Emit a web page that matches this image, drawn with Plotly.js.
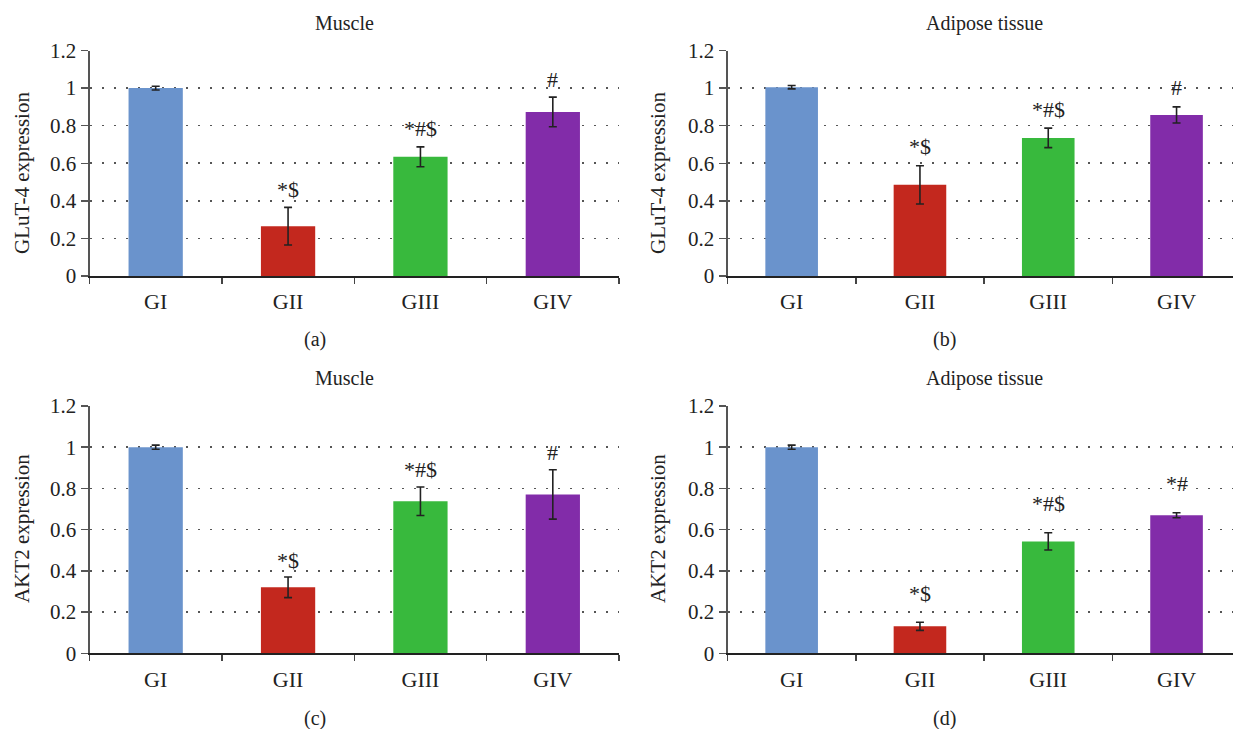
<!DOCTYPE html>
<html>
<head>
<meta charset="utf-8">
<script src="https://cdn.plot.ly/plotly-3.0.1.min.js"></script>
<style>
  html, body { margin: 0; padding: 0; background: #ffffff; }
  #chart { width: 1233px; height: 729px; }
</style>
</head>
<body>
<div id="chart"></div>
<script>
// ---- data ----
const categories = ['GI', 'GII', 'GIII', 'GIV'];
const barColors = ['#6a93cc', '#c3281e', '#38b93d', '#822ca9'];

const glut4Muscle = [1.0, 0.265, 0.634, 0.873];
const glut4MuscleErr = [0.01, 0.10, 0.053, 0.079];
const glut4MuscleMarks = ['', '*$', '*#$', '#'];

const glut4Adipose = [1.005, 0.485, 0.735, 0.857];
const glut4AdiposeErr = [0.009, 0.102, 0.052, 0.043];
const glut4AdiposeMarks = ['', '*$', '*#$', '#'];

const akt2Muscle = [1.0, 0.320, 0.738, 0.771];
const akt2MuscleErr = [0.01, 0.05, 0.069, 0.12];
const akt2MuscleMarks = ['', '*$', '*#$', '#'];

const akt2Adipose = [1.0, 0.131, 0.543, 0.670];
const akt2AdiposeErr = [0.01, 0.02, 0.042, 0.012];
const akt2AdiposeMarks = ['', '*$', '*#$', '*#'];

const panelTitles = ['Muscle', 'Adipose tissue', 'Muscle', 'Adipose tissue'];
const yTitles = ['GLuT-4 expression', 'GLuT-4 expression', 'AKT2 expression', 'AKT2 expression'];
const panelLetters = ['(a)', '(b)', '(c)', '(d)'];
const yTickVals = [0, 0.2, 0.4, 0.6, 0.8, 1.0, 1.2];
const yTickText = ['0', '0.2', '0.4', '0.6', '0.8', '1', '1.2'];

// ---- layout helpers ----
const W = 1233, H = 729;
const FONT = 'Liberation Serif, Times New Roman, serif';
const panels = [
  {vals: glut4Muscle, err: glut4MuscleErr, marks: glut4MuscleMarks,
   x0: 89.5, x1: 619, yTop: 50.5, yBot: 276, xr: [-0.5, 3.5], markShift: 18,
   titleX: 344, titleY: 23, letterX: 315, letterY: 340, yTitleX: 22, yTitleY: 173},
  {vals: glut4Adipose, err: glut4AdiposeErr, marks: glut4AdiposeMarks,
   x0: 727.5, x1: 1233, yTop: 50.5, yBot: 276, xr: [-0.5, 3.44], markShift: 19,
   titleX: 985, titleY: 23, letterX: 944, letterY: 340, yTitleX: 658, yTitleY: 173},
  {vals: akt2Muscle, err: akt2MuscleErr, marks: akt2MuscleMarks,
   x0: 89.5, x1: 619, yTop: 406, yBot: 653.3, xr: [-0.5, 3.5], markShift: 17,
   titleX: 344, titleY: 378, letterX: 315, letterY: 718, yTitleX: 22, yTitleY: 529},
  {vals: akt2Adipose, err: akt2AdiposeErr, marks: akt2AdiposeMarks,
   x0: 727.5, x1: 1233, yTop: 406, yBot: 653.3, xr: [-0.5, 3.44], markShift: 29,
   titleX: 985, titleY: 378, letterX: 944, letterY: 718, yTitleX: 658, yTitleY: 529}
];

const traces = [];
const layout = {
  width: W, height: H,
  margin: {l: 0, r: 0, t: 0, b: 0},
  paper_bgcolor: '#ffffff',
  plot_bgcolor: 'rgba(0,0,0,0)',
  showlegend: false,
  font: {family: FONT, size: 20, color: '#222222'},
  annotations: []
};

panels.forEach((p, i) => {
  const n = i === 0 ? '' : String(i + 1);
  traces.push({
    type: 'bar',
    x: categories,
    y: p.vals,
    width: 0.41,
    marker: {color: barColors, line: {width: 0}},
    error_y: {type: 'data', array: p.err, visible: true, color: '#222222', thickness: 1.6, width: 4},
    xaxis: 'x' + n, yaxis: 'y' + n,
    hoverinfo: 'x+y'
  });
  layout['xaxis' + n] = {
    domain: [p.x0 / W, Math.min(p.x1 / W, 1)],
    anchor: 'y' + n,
    type: 'category',
    range: p.xr,
    showline: true, linecolor: '#222222', linewidth: 2,
    ticks: 'outside', tickson: 'boundaries', ticklen: 6, tickwidth: 1.5, tickcolor: '#444444',
    ticklabelstandoff: 5,
    showgrid: false, zeroline: false,
    tickfont: {family: FONT, size: 22, color: '#222222'}
  };
  layout['yaxis' + n] = {
    domain: [1 - p.yBot / H, 1 - p.yTop / H],
    anchor: 'x' + n,
    range: [0, 1.2],
    tickvals: yTickVals, ticktext: yTickText,
    showline: true, linecolor: '#555555', linewidth: 2,
    ticks: 'outside', ticklen: 7, tickwidth: 1.5, tickcolor: '#555555',
    showgrid: true, gridcolor: '#555555', gridwidth: 1.6, griddash: '2px,10px',
    zeroline: false,
    tickfont: {family: FONT, size: 21, color: '#222222'}
  };
  // significance marks above error bars
  categories.forEach((c, k) => {
    if (!p.marks[k]) return;
    layout.annotations.push({
      xref: 'x' + n, yref: 'y' + n,
      x: c, y: p.vals[k] + p.err[k],
      yanchor: 'middle', yshift: p.markShift,
      text: p.marks[k], showarrow: false,
      font: {family: FONT, size: 22, color: '#222222'}
    });
  });
  // panel title
  layout.annotations.push({
    xref: 'paper', yref: 'paper', x: p.titleX / W, y: 1 - p.titleY / H,
    xanchor: 'center', yanchor: 'middle', text: panelTitles[i], showarrow: false,
    font: {family: FONT, size: 20, color: '#222222'}
  });
  // panel letter
  layout.annotations.push({
    xref: 'paper', yref: 'paper', x: p.letterX / W, y: 1 - p.letterY / H,
    xanchor: 'center', yanchor: 'middle', text: panelLetters[i], showarrow: false,
    font: {family: FONT, size: 20, color: '#222222'}
  });
  // y axis title
  layout.annotations.push({
    xref: 'paper', yref: 'paper', x: p.yTitleX / W, y: 1 - p.yTitleY / H,
    xanchor: 'center', yanchor: 'middle', textangle: -90, text: yTitles[i], showarrow: false,
    font: {family: FONT, size: 21, color: '#222222'}
  });
});

Plotly.newPlot('chart', traces, layout, {displayModeBar: false, staticPlot: true});
</script>
</body>
</html>
